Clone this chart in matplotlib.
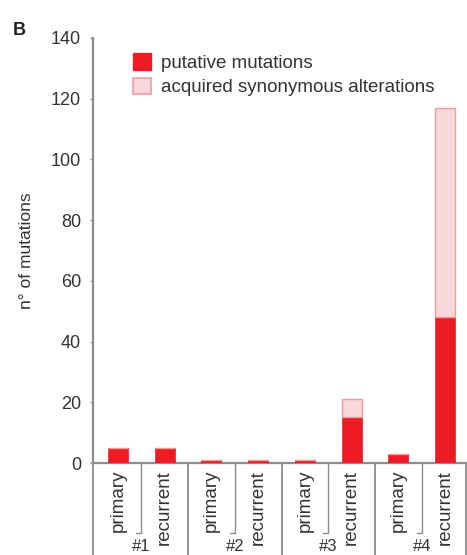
import matplotlib
matplotlib.use("Agg")
import matplotlib.pyplot as plt
import matplotlib.transforms as mtransforms
from matplotlib.patches import Patch

plt.rcParams['font.family'] = ['Liberation Sans', 'DejaVu Sans']

# Data
samples = ["primary", "recurrent"] * 4
groups = ["#1", "#2", "#3", "#4"]
putative = [5, 5, 1, 1, 1, 15, 3, 48]
synonymous = [0, 0, 0, 0, 0, 6, 0, 69]
yticks = [0, 20, 40, 60, 80, 100, 120, 140]

RED = "#ED1C24"
PINK = "#F9D8DB"
PINK_EDGE = "#F29A9E"
GREY = "#8C8C8C"
TXT = "#333333"

fig = plt.figure(figsize=(4.67, 5.55), dpi=100)
ax = fig.add_axes([93/467, (555-463)/555, (467-93)/467, (463-38)/555])

x = list(range(len(samples)))
w = 0.43
ax.bar(x, putative, width=w, color=RED, edgecolor=RED, linewidth=0.5, zorder=3)
ax.bar(x, synonymous, width=w, bottom=putative, color=PINK, edgecolor=PINK_EDGE,
       linewidth=1.0, zorder=3)

ax.set_xlim(-0.535, 7.47)
ax.set_ylim(0, 140)
ax.set_yticks(yticks)
ax.set_yticklabels([str(v) for v in yticks], fontsize=13, color=TXT)
ax.tick_params(axis='y', direction='out', length=2.5, width=1, color=GREY, pad=6)
ax.set_xticks(x)
ax.set_xticklabels(samples, rotation=90, fontsize=13.5, color=TXT, va='top')
ax.tick_params(axis='x', length=0, pad=5)

for s in ['top', 'right']:
    ax.spines[s].set_visible(False)
ax.spines['left'].set_color(GREY)
ax.spines['left'].set_linewidth(1.6)
ax.spines['bottom'].set_color(GREY)
ax.spines['bottom'].set_linewidth(1.6)

ax.set_ylabel("n° of mutations", fontsize=12.5, color=TXT, labelpad=12)

trans = mtransforms.blended_transform_factory(ax.transData, ax.transAxes)
# group separators down to figure bottom
for xs in [-0.535, 1.5, 3.5, 5.5, 7.45]:
    ax.plot([xs, xs], [0, -0.22], transform=trans, color=GREY, lw=1.3, clip_on=False)
# inner separators
for xs in [0.5, 2.5, 4.5, 6.5]:
    ax.plot([xs - 0.11, xs, xs], [-0.165, -0.165, 0], transform=trans, color=GREY,
            lw=1.0, clip_on=False)
# group labels
for i, g in enumerate(groups):
    ax.text(2 * i + 0.5, -0.2145, g, transform=trans, ha='center', va='bottom',
            fontsize=12, color=TXT)

handles = [Patch(facecolor=RED, edgecolor=RED, label="putative mutations"),
           Patch(facecolor=PINK, edgecolor=PINK_EDGE, linewidth=1.2,
                 label="acquired synonymous alterations")]
leg = ax.legend(handles=handles, loc='upper left', bbox_to_anchor=(0.087, 0.982),
                frameon=False, fontsize=13.5, handlelength=0.95, handleheight=1.0,
                handletextpad=0.55, labelspacing=0.3, borderaxespad=0)
for t in leg.get_texts():
    t.set_color(TXT)

fig.text(13/467, 1 - 35/555, "B", fontsize=13, fontweight='bold', color='#222222')

fig.savefig("out.png", dpi=100)
